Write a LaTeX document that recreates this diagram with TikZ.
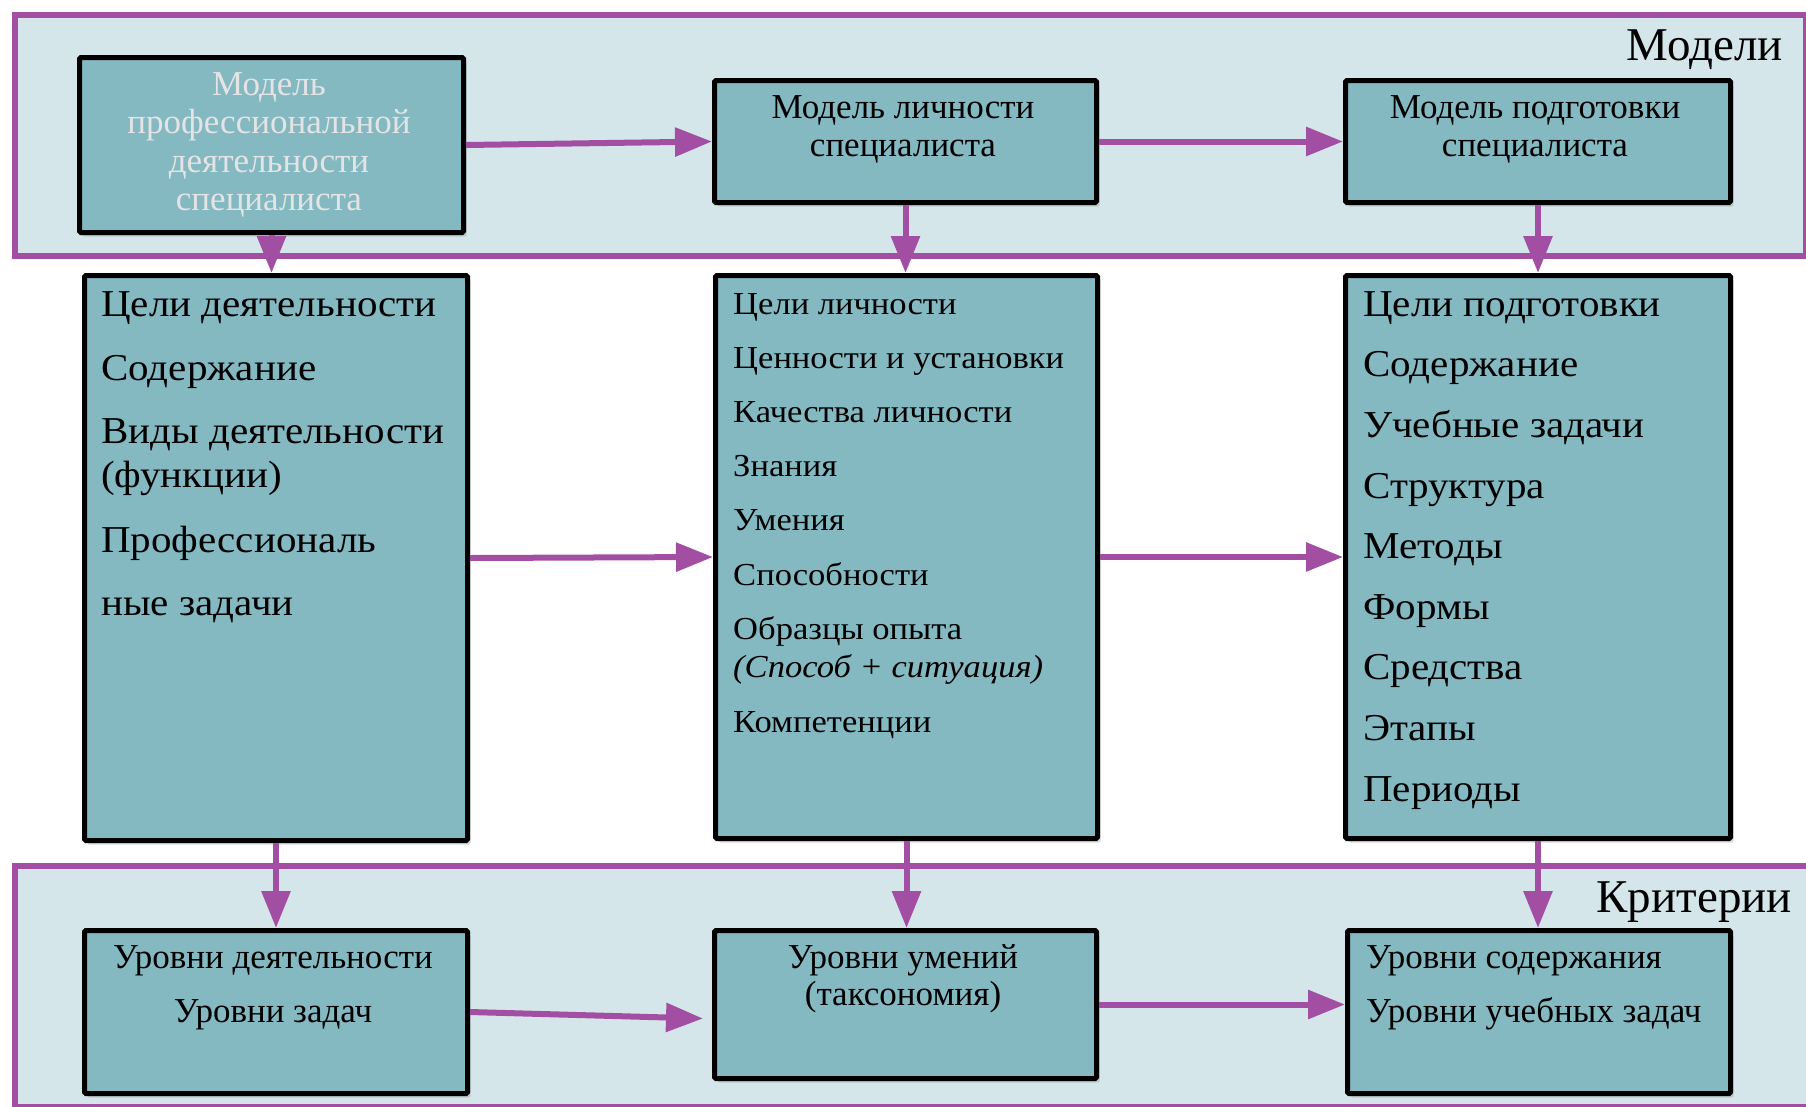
\documentclass[tikz,border=0pt]{standalone}
\usepackage{fontspec}
\setmainfont{Liberation Serif}
\newfontfamily\bodyfont[FakeStretch=1.08]{Liberation Serif}
\usetikzlibrary{arrows.meta,shadows,calc}
\definecolor{framefill}{HTML}{D4E6EA}
\definecolor{boxfill}{HTML}{84B9C2}
\definecolor{purp}{HTML}{A24FA3}
\definecolor{lighttext}{HTML}{E4E4E4}
\begin{document}
\begin{tikzpicture}[x=1pt,y=-1pt,
  frame/.style={draw=purp,line width=6pt,fill=framefill,
    drop shadow={shadow xshift=2pt,shadow yshift=-3pt,opacity=0.25}},
  mbox/.style={draw=black,line width=5pt,fill=boxfill,rounded corners=1.5pt,
    anchor=north west,inner sep=0pt,
    drop shadow={shadow xshift=3pt,shadow yshift=-4pt,opacity=0.3}},
  conn/.style={draw=purp,line width=6pt,-{Triangle[length=37pt,width=28pt]}},
  head/.style={font=\fontsize{35}{38}\selectfont,inner sep=0pt,anchor=mid,yshift=-9pt},
  item/.style={font=\bodyfont\fontsize{38}{42}\selectfont,inner sep=0pt,anchor=mid west,yshift=-9pt},
  sitem/.style={font=\bodyfont\fontsize{32}{36}\selectfont,inner sep=0pt,anchor=mid west,yshift=-9pt},
  group/.style={font=\fontsize{47}{50}\selectfont,inner sep=0pt,anchor=base east}
]
\useasboundingbox (0,0) rectangle (1806,1106);
% frames
\node[frame,minimum width=1791pt,minimum height=241pt,anchor=north west,inner sep=0pt] (fmodels) at (12,12) {};
\node[frame,minimum width=1810pt,minimum height=241pt,anchor=north west,inner sep=0pt] (fcrit) at (12,863) {};
\node[group] (gmodels) at (1783,60) {Модели};
\node[group] (gcrit) at (1792,912) {Критерии};
% boxes
\node[mbox,minimum width=384pt,minimum height=175pt] (b1) at (77,55) {};
\node[mbox,minimum width=382pt,minimum height=122pt] (b2) at (712,78) {};
\node[mbox,minimum width=385pt,minimum height=122pt] (b3) at (1343,78) {};
\node[mbox,minimum width=383pt,minimum height=565pt] (b4) at (82,273) {};
\node[mbox,minimum width=382pt,minimum height=563pt] (b5) at (713,273) {};
\node[mbox,minimum width=385pt,minimum height=563pt] (b6) at (1343,273) {};
\node[mbox,minimum width=383pt,minimum height=163pt] (b7) at (82,928) {};
\node[mbox,minimum width=382pt,minimum height=148pt] (b8) at (712,928) {};
\node[mbox,minimum width=383pt,minimum height=163pt] (b9) at (1345,928) {};
% box texts
\foreach \y/\t [count=\i] in {84/Модель,122/профессиональной,161/деятельности,199/специалиста}
  \node[head,text=lighttext] (t1-\i) at (269,\y) {\t};
\foreach \y/\t [count=\i] in {107/Модель личности,145/специалиста}
  \node[head] (t2-\i) at (903,\y) {\t};
\foreach \y/\t [count=\i] in {107/Модель подготовки,145/специалиста}
  \node[head] (t3-\i) at (1535,\y) {\t};
\foreach \y/\t [count=\i] in {305/Цели деятельности,369/Содержание,432/Виды деятельности,476/(функции),541/Профессиональ,604/ные задачи}
  \node[item] (t4-\i) at (101,\y) {\t};
\foreach \y/\t [count=\i] in {303/Цели личности,357/Ценности и установки,411/Качества личности,465/Знания,519/Умения,574/Способности,628/Образцы опыта,666/\textit{(Способ + ситуация)},721/Компетенции}
  \node[sitem] (t5-\i) at (733,\y) {\t};
\foreach \y/\t [count=\i] in {305/Цели подготовки,365/Содержание,426/Учебные задачи,487/Структура,547/Методы,608/Формы,668/Средства,729/Этапы,790/Периоды}
  \node[item] (t6-\i) at (1363,\y) {\t};
\foreach \y/\t [count=\i] in {957/Уровни деятельности,1011/Уровни задач}
  \node[head] (t7-\i) at (273,\y) {\t};
\foreach \y/\t [count=\i] in {957/Уровни умений,994/(таксономия)}
  \node[head] (t8-\i) at (903,\y) {\t};
\foreach \y/\t [count=\i] in {957/Уровни содержания,1011/Уровни учебных задач}
  \node[head,anchor=mid west] (t9-\i) at (1366,\y) {\t};
% connectors
\draw[conn] (b1.east) -- (b2.west);
\draw[conn] (b2.east) -- (b3.west);
\draw[conn] (b4.east) -- (b5.west);
\draw[conn] (b5.east) -- (b6.west);
\draw[conn] (b7.east) -- ([xshift=-9pt,yshift=-14pt]b8.west);
\draw[conn] (b8.east) -- (b8.east -| b9.west);
\draw[conn] (b1.south) -- (b1.south |- b4.north);
\draw[conn] (b2.south) -- (b2.south |- b5.north);
\draw[conn] (b3.south) -- (b3.south |- b6.north);
\draw[conn] (b4.south) -- (b4.south |- b7.north);
\draw[conn] (b5.south) -- (b5.south |- b8.north);
\draw[conn] (b6.south) -- (b6.south |- b9.north);
\end{tikzpicture}
\end{document}
